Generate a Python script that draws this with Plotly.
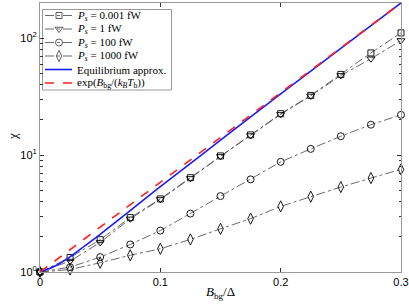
import plotly.graph_objects as go

x_pts = [0, 0.025, 0.05, 0.075, 0.1, 0.125, 0.15, 0.175, 0.2, 0.225, 0.25, 0.275, 0.3]
chi_0001fW = [1.0, 1.33, 1.89, 2.92, 4.22, 6.41, 9.84, 14.9, 22.6, 32.4, 49.0, 74.8, 111]
chi_1fW = [1.0, 1.24, 1.79, 2.85, 4.18, 6.32, 9.75, 14.7, 22.3, 32.1, 48.0, 66.7, 95.5]
chi_100fW = [1.0, 1.10, 1.34, 1.72, 2.26, 3.16, 4.46, 6.2, 8.75, 11.3, 14.5, 18.2, 22.1]
chi_1000fW = [1.0, 1.05, 1.20, 1.39, 1.58, 1.90, 2.34, 2.86, 3.64, 4.41, 5.33, 6.36, 7.55]

x_eq = [0, 0.0125, 0.025, 0.0375, 0.05, 0.075, 0.1, 0.15, 0.2, 0.25, 0.3]
chi_eq = [1.0, 1.125, 1.35, 1.68, 2.10, 3.35, 5.37, 13.4, 33.4, 81.9, 200]

x_exp = [0, 0.1, 0.2, 0.3]
chi_exp = [1.0, 5.85, 34.2, 200]

x_ticks = [0, 0.1, 0.2, 0.3]
x_ticktext = ["0", "0.1", "0.2", "0.3"]
y_ticks = [1, 10, 100]
y_ticktext = ["10<sup>0</sup>", "10<sup>1</sup>", "10<sup>2</sup>"]
y_minor_ticks = [2, 3, 4, 5, 6, 7, 8, 9, 20, 30, 40, 50, 60, 70, 80, 90, 200]

labels = ["<i>P<sub>s</sub></i> = 0.001 fW", "<i>P<sub>s</sub></i> = 1 fW",
          "<i>P<sub>s</sub></i> = 100 fW", "<i>P<sub>s</sub></i> = 1000 fW"]
eq_label = "Equilibrium approx."
exp_label = "exp(<i>B</i><sub>bg</sub>/(<i>k<sub>B</sub>T</i><sub>b</sub>))"
series = [chi_0001fW, chi_1fW, chi_100fW, chi_1000fW]
symbols = ["square-open", "triangle-down-open", "circle-open", "diamond-tall-open"]
sizes = [6, 7, 7, 8]

# plot area in pixels
W, H = 409, 307
L, R, T, B = 40, 401, 3, 272

fig = go.Figure()
for lab, ys, sym, sz in zip(labels, series, symbols, sizes):
    fig.add_trace(go.Scatter(
        x=x_pts, y=ys, mode="lines+markers", name=lab, showlegend=False,
        line=dict(color="#444444", width=0.8, dash="dashdot"),
        marker=dict(symbol=sym, size=sz, color="black", line=dict(color="black", width=0.9)),
        cliponaxis=False,
    ))
fig.add_trace(go.Scatter(x=x_eq, y=chi_eq, mode="lines", name=eq_label, showlegend=False,
                         line=dict(color="#1a1aff", width=1.6, shape="spline"), cliponaxis=False))
fig.add_trace(go.Scatter(x=x_exp, y=chi_exp, mode="lines", name=exp_label, showlegend=False,
                         line=dict(color="#ff2020", width=1.6, dash="dash"), cliponaxis=False))

# ---- manual legend on a pixel-coordinate overlay axis ----
leg_x0, leg_x1, leg_y0, leg_y1 = 42.5, 171.5, 9.5, 90
row_y = [15.5, 29, 42.5, 56, 69.5, 83]
line_x0, line_x1, mark_x, text_x = 45, 72, 59, 75
for i, (sym, sz) in enumerate(zip(symbols, sizes)):
    fig.add_trace(go.Scatter(
        x=[line_x0, mark_x, line_x1], y=[row_y[i]] * 3, xaxis="x2", yaxis="y2",
        mode="lines+markers", showlegend=False, hoverinfo="skip",
        line=dict(color="#444444", width=0.8, dash="dashdot"),
        marker=dict(symbol=sym, size=[0, sz, 0], color="black", line=dict(color="black", width=0.9)),
    ))
fig.add_trace(go.Scatter(x=[line_x0, line_x1], y=[row_y[4]] * 2, xaxis="x2", yaxis="y2",
                         mode="lines", showlegend=False, hoverinfo="skip",
                         line=dict(color="#1a1aff", width=1.6)))
fig.add_trace(go.Scatter(x=[line_x0, line_x1], y=[row_y[5]] * 2, xaxis="x2", yaxis="y2",
                         mode="lines", showlegend=False, hoverinfo="skip",
                         line=dict(color="#ff2020", width=1.6, dash="dash")))
fig.add_shape(type="rect", xref="x2", yref="y2", x0=leg_x0, x1=leg_x1, y0=leg_y0, y1=leg_y1,
              line=dict(color="#999999", width=1), fillcolor="white", layer="below")
for i, txt in enumerate(labels + [eq_label, exp_label]):
    fig.add_annotation(x=text_x, y=row_y[i], xref="x2", yref="y2", text=txt, showarrow=False,
                       xanchor="left", yanchor="middle",
                       font=dict(family="Liberation Serif", size=11, color="black"))

# axis titles
fig.add_annotation(x=(220 - L) / (R - L), y=-(292 - B) / (B - T), xref="paper", yref="paper",
                   text="<i>B</i><sub>bg</sub>/Δ", showarrow=False, xanchor="center", yanchor="middle",
                   font=dict(family="Liberation Serif", size=13, color="black"))
fig.add_annotation(x=-(L - 12) / (R - L), y=(B - 137) / (B - T), xref="paper", yref="paper",
                   text="χ", showarrow=False, xanchor="center", yanchor="middle", textangle=-90,
                   font=dict(family="Liberation Serif", size=13, color="black"))

axis_common = dict(showline=True, linecolor="#999999", linewidth=1, mirror="ticks",
                   ticks="inside", tickcolor="#333333", ticklen=4, showgrid=False, zeroline=False,
                   automargin=False,
                   tickfont=dict(family="Liberation Sans, Arial", size=11, color="black"))

fig.update_xaxes(range=[0, 0.3], tickvals=x_ticks, ticktext=x_ticktext, **axis_common)
fig.update_yaxes(type="log", range=[0, 2.301], tickvals=y_ticks, ticktext=y_ticktext,
                 minor=dict(tickvals=y_minor_ticks, ticks="inside", ticklen=2.5,
                            tickcolor="#333333", showgrid=False),
                 **axis_common)

fig.update_layout(
    width=W, height=H,
    margin=dict(l=L, r=W - R, t=T, b=H - B),
    plot_bgcolor="white", paper_bgcolor="white",
    showlegend=False, hovermode=False,
    xaxis2=dict(overlaying="x", range=[L, R], visible=False, fixedrange=True),
    yaxis2=dict(overlaying="y", range=[B, T], visible=False, fixedrange=True),
)

fig.write_html("out.html", config={"displayModeBar": False, "staticPlot": True},
               post_script="document.body.style.margin='0';document.body.style.overflow='hidden';")
